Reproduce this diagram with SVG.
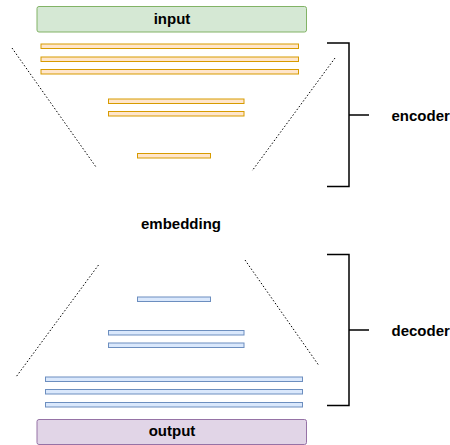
<svg xmlns="http://www.w3.org/2000/svg" width="450" height="445" viewBox="0 0 450 445">
  <style>
    .lbl { font-family: "Liberation Sans", Arial, Helvetica, sans-serif; font-size: 15px; font-weight: bold; fill: #000; }
    .enc { fill: #ffe6cc; stroke: #d79b00; stroke-width: 1; }
    .dec { fill: #dae8fc; stroke: #6c8ebf; stroke-width: 1; }
    .guide { fill: none; stroke: #000; stroke-width: 1; stroke-dasharray: 1.5 2; }
    .brace { fill: none; stroke: #000; stroke-width: 1.5; }
  </style>
  <rect width="450" height="445" fill="#fff"/>

  <g id="input">
    <rect x="37" y="6.5" width="269.5" height="25.5" rx="2" fill="#d5e8d4" stroke="#82b366" stroke-width="1"/>
    <text class="lbl" x="172" y="23.5" text-anchor="middle">input</text>
  </g>

  <g id="encoder-layers">
    <rect class="enc" x="41" y="44" width="257.5" height="4.5"/>
    <rect class="enc" x="41" y="57" width="257.5" height="4.5"/>
    <rect class="enc" x="41" y="69.5" width="257.5" height="4.5"/>
    <rect class="enc" x="108.5" y="99" width="135.5" height="4.5"/>
    <rect class="enc" x="108.5" y="111.5" width="135.5" height="4.5"/>
    <rect class="enc" x="137.5" y="153.5" width="73" height="4.5"/>
  </g>

  <g id="embedding">
    <text class="lbl" x="181" y="228.5" text-anchor="middle">embedding</text>
  </g>

  <g id="decoder-layers">
    <rect class="dec" x="137.5" y="297" width="73" height="4.5"/>
    <rect class="dec" x="108.5" y="330.5" width="135.5" height="4.5"/>
    <rect class="dec" x="108.5" y="343" width="135.5" height="4.5"/>
    <rect class="dec" x="45.5" y="377" width="257" height="4.5"/>
    <rect class="dec" x="45.5" y="389.5" width="257" height="4.5"/>
    <rect class="dec" x="45.5" y="402.5" width="257" height="4.5"/>
  </g>

  <g id="output">
    <rect x="37" y="419.5" width="269.5" height="25" rx="2" fill="#e1d5e7" stroke="#9673a6" stroke-width="1"/>
    <text class="lbl" x="172" y="436" text-anchor="middle">output</text>
  </g>

  <g id="encoder-label">
    <text class="lbl" x="391.5" y="120.5">encoder</text>
  </g>
  <g id="decoder-label">
    <text class="lbl" x="391.5" y="336">decoder</text>
  </g>

  <g id="connectors">
    <!-- tapering guides -->
    <line class="guide" x1="12" y1="48" x2="96" y2="167"/>
    <line class="guide" x1="335" y1="58" x2="252" y2="171"/>
    <line class="guide" x1="98.5" y1="265" x2="16" y2="377"/>
    <line class="guide" x1="245" y1="260" x2="318.5" y2="365"/>
    <!-- brackets -->
    <path class="brace" d="M327 43 H349 V186.5 H327 M349 115 H369"/>
    <path class="brace" d="M327 254.5 H349 V405.5 H327 M349 330 H369"/>
  </g>
</svg>
